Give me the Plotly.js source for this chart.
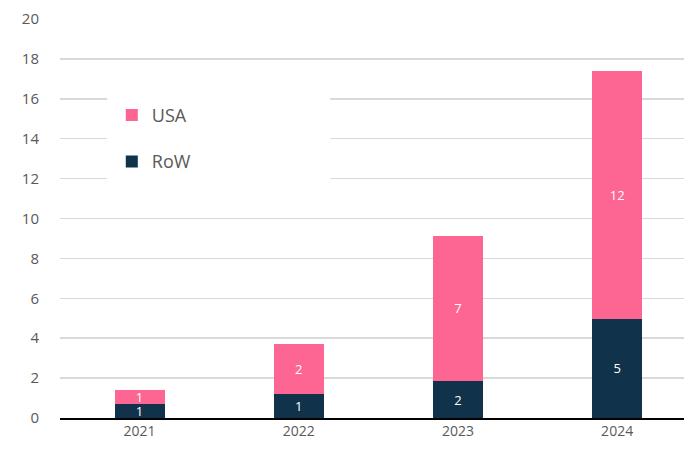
<!DOCTYPE html>
<html>
<head>
<meta charset="utf-8">
<script src="https://cdn.plot.ly/plotly-3.0.1.min.js"></script>
<style>html,body{margin:0;padding:0;background:#fff;}#chart{width:684px;height:451px;}</style>
</head>
<body>
<div id="chart"></div>
<script>
const years = ['2021', '2022', '2023', '2024'];
const rowValues = [0.72, 1.22, 1.85, 4.98];
const usaValues = [0.68, 2.49, 7.29, 12.4];
const yTicks = [0, 2, 4, 6, 8, 10, 12, 14, 16, 18, 20];

const FONT = 'Open Sans, Lato, sans-serif';

const barTraces = [
  {
    type: 'bar', name: 'RoW', x: years, y: rowValues,
    marker: {color: '#10324a'},
    texttemplate: '%{y:.0f}', textposition: 'inside', insidetextanchor: 'middle',
    textangle: 0, constraintext: 'none',
    textfont: {color: '#ffffff', size: 13, family: FONT},
    legendgroup: 'row', legendrank: 2, width: 0.314
  },
  {
    type: 'bar', name: 'USA', x: years, y: usaValues,
    marker: {color: '#fd6592'},
    texttemplate: '%{y:.0f}', textposition: 'inside', insidetextanchor: 'middle',
    textangle: 0, constraintext: 'none',
    textfont: {color: '#ffffff', size: 13, family: FONT},
    legendgroup: 'usa', legendrank: 1, width: 0.314
  }
];

const layout = {
  width: 684, height: 451,
  margin: {l: 60, r: 0, t: 19, b: 33, pad: 0},
  paper_bgcolor: '#ffffff', plot_bgcolor: '#ffffff',
  barmode: 'stack',
  font: {family: FONT, color: '#595959'},
  xaxis: {
    type: 'category', range: [-0.5, 3.42],
    showgrid: false, showline: true, linecolor: '#000000', linewidth: 1.5,
    ticks: '', tickfont: {size: 14, color: '#595959'},
    zeroline: false
  },
  yaxis: {
    range: [0, 20], tickvals: yTicks, ticktext: yTicks.map(String),
    showgrid: true, gridcolor: '#d9d9d9', gridwidth: 1.5,
    zeroline: false, showline: false, ticks: '',
    ticklabelstandoff: 20,
    tickfont: {size: 15, color: '#595959'}
  },
  shapes: [{
    type: 'rect', xref: 'paper', yref: 'paper', layer: 'above',
    x0: 0.0755, x1: 0.433, y0: 0.548, y1: 0.87,
    fillcolor: '#ffffff', line: {width: 0}
  }],
  showlegend: true,
  legend: {
    x: 0.083, y: 0.805, xanchor: 'left', yanchor: 'top',
    bgcolor: 'rgba(255,255,255,0)', borderwidth: 0,
    traceorder: 'grouped', tracegroupgap: 20,
    font: {size: 18, color: '#595959', family: FONT}
  }
};

Plotly.newPlot('chart', barTraces, layout, {displayModeBar: false, staticPlot: true});
</script>
</body>
</html>
